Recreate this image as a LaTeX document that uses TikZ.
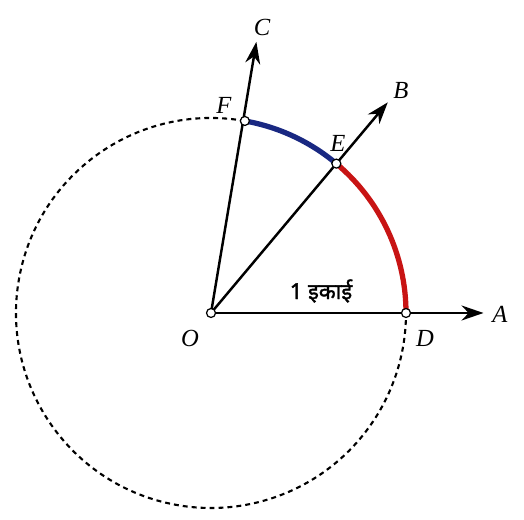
\documentclass[tikz,border=0pt]{standalone}
\usepackage{fontspec}
\setmainfont{Liberation Serif}
\newfontfamily\devfont[Script=Devanagari,FakeBold=1.6]{Noto Sans}
\usetikzlibrary{arrows.meta,positioning}

\definecolor{arcred}{RGB}{200,20,20}
\definecolor{arcblue}{RGB}{25,40,130}

\begin{document}
\begin{tikzpicture}[
    pt/.style={circle, draw, fill=white, inner sep=0pt, minimum size=0.18cm, line width=0.7pt},
    ray/.style={-{Stealth[length=0.44cm,width=0.3cm]}, line width=1.4pt},
    lbl/.style={font=\fontsize{14}{16}\selectfont\itshape, inner sep=1pt},
    circ/.style={line width=1.2pt, dash pattern=on 2.8pt off 2.3pt},
    arcline/.style={line width=3pt}
]
\useasboundingbox (-4.22,-4.14) rectangle (6.26,6.26);

% centre and ray ends
\coordinate (O) at (0,0);
\coordinate (tipA) at (0:5.45);
\coordinate (tipB) at (50:5.5);
\coordinate (tipC) at (80.5:5.5);

% dashed circle and the two arcs
\draw[circ] (80:3.9) arc[start angle=80, end angle=360, radius=3.9];
\draw[arcline, arcred] (0:3.9) arc[start angle=0, end angle=50, radius=3.9];
\draw[arcline, arcblue] (50:3.9) arc[start angle=50, end angle=80, radius=3.9];

\draw[ray] (O) -- (tipA);
\draw[ray] (O) -- (tipB);
\draw[ray] (O) -- (tipC);

% points on the circle
\node[pt] (nO) at (O) {};
\node[pt] (D) at (0:3.9) {};
\node[pt] (E) at (50:3.9) {};
\node[pt] (F) at (80:3.9) {};

% labels
\node[lbl] (A) at (5.78,-0.02) {A};
\node[lbl] (B) at (3.8,4.46) {B};
\node[lbl] (C) at (1.02,5.72) {C};
\node[lbl] (lF) at (0.26,4.16) {F};
\node[lbl] (lE) at (2.54,3.4) {E};
\node[lbl] (lO) at (-0.42,-0.5) {O};
\node[lbl] (lD) at (4.28,-0.5) {D};
\node (unit) at (2.2,0.44) {\devfont\fontsize{12.5}{14}\selectfont 1 इकाई};

\end{tikzpicture}
\end{document}
